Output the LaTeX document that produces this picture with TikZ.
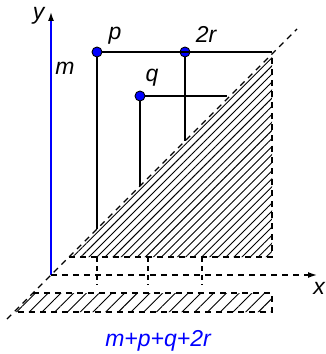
\documentclass[tikz,border=0pt]{standalone}
\usepackage{fontspec}
\setmainfont{Liberation Sans}
\usetikzlibrary{arrows.meta, patterns.meta, calc}

\tikzset{
  axisline/.style={line width=1.4pt},
  guideline/.style={line width=1.4pt, dash pattern=on 6pt off 5pt},
  dot/.style={circle, draw=black, fill=blue, line width=0.9pt, inner sep=0pt, minimum size=10pt},
  lbl/.style={font=\fontsize{23}{26}\selectfont\itshape},
  trihatch/.style={pattern={Lines[angle=45, distance=5.7pt, line width=0.9pt]}},
  barhatch/.style={pattern={Lines[angle=45, distance=9pt, line width=0.9pt]}}
}

\begin{document}
\begin{tikzpicture}[x=1pt, y=1pt]
  \useasboundingbox (-51,-79) rectangle (274,275);

  % Axes and diagonal
  \coordinate (O) at (0,0);
  \coordinate (Ytip) at (0,263);
  \coordinate (Xtip) at (266,0);
  \coordinate (Dlow) at (-44,-44);
  \coordinate (Dhigh) at (246,246);

  % Triangle below the diagonal
  \coordinate (T1) at (221,221);
  \coordinate (T2) at (221,18);
  \coordinate (T3) at (18,18);

  % Sum bar
  \coordinate (B1) at (-18,-18);
  \coordinate (B2) at (221,-18);
  \coordinate (B3) at (221,-37);
  \coordinate (B4) at (-37,-37);

  % Hatched areas
  \fill[trihatch] (T1) -- (T2) -- (T3) -- cycle;
  \fill[barhatch] (B1) -- (B2) -- (B3) -- (B4) -- cycle;
  \draw[guideline] (T3) -- (T2) -- (T1);
  \draw[guideline] (B1) -- (B2) -- (B3) -- (B4);

  % Diagonal
  \draw[guideline] (Dlow) -- (Dhigh);

  % Axes
  \draw[axisline, blue, -{Latex[length=9pt, width=6pt, color=black]}] (O) -- (Ytip);
  \draw[guideline, -{Latex[length=9pt, width=6pt]}] (O) -- (Xtip);
  \node[lbl, anchor=east] (ylab) at ($(Ytip)+(-3,-4)$) {y};
  \node[lbl, anchor=north] (xlab) at ($(Xtip)+(2,-4)$) {x};
  \node[lbl] (mlab) at (14,207) {m};

  % Points
  \node[dot] (p) at (46,223) {};
  \node[dot] (r) at (134,223) {};
  \node[dot] (q) at (89,179) {};
  \node[lbl] (plab) at (64,239) {p};
  \node[lbl] (rlab) at (155,241) {2r};
  \node[lbl] (qlab) at (101,197) {q};

  % Horizontal lines
  \coordinate (Pend) at (221,223);
  \coordinate (Qend) at (176,179);
  \draw[axisline] (p) -- (Pend);
  \draw[axisline] (q) -- (Qend);

  % Drops to the diagonal
  \coordinate (Pd) at (46,46);
  \coordinate (Qd) at (89,89);
  \coordinate (Rd) at (134,134);
  \draw[axisline] (p) -- (Pd);
  \draw[axisline] (q) -- (Qd);
  \draw[axisline] (r) -- (Rd);

  % Dashed marks under the triangle
  \foreach \xx in {46,97,151}
    \draw[guideline, dash pattern=on 5pt off 4pt] (\xx,18) -- (\xx,-10);

  % Sum label
  \node[lbl, text=blue] (sumlab) at (107,-66) {m+p+q+2r};
\end{tikzpicture}
\end{document}
